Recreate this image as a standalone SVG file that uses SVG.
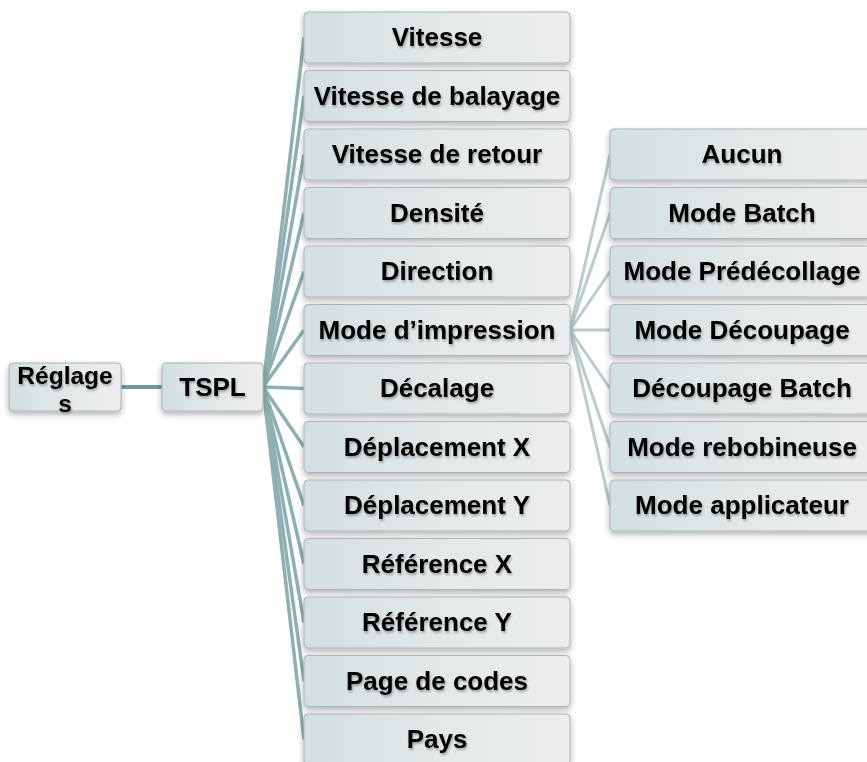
<svg xmlns="http://www.w3.org/2000/svg" width="867" height="762" viewBox="0 0 867 762">
<defs>
<linearGradient id="g" x1="0" y1="0" x2="1" y2="0">
<stop offset="0" stop-color="#d3dfe1"/>
<stop offset="0.5" stop-color="#e3e8e9"/>
<stop offset="1" stop-color="#eceeee"/>
</linearGradient>
<filter id="sh" x="-10%" y="-20%" width="120%" height="160%">
<feDropShadow dx="0" dy="3" stdDeviation="3" flood-color="#000" flood-opacity="0.3"/>
</filter>
<filter id="ts" x="-10%" y="-30%" width="120%" height="160%">
<feDropShadow dx="1" dy="2" stdDeviation="1.2" flood-color="#000" flood-opacity="0.3"/>
</filter>
</defs>
<style>
.b{fill:url(#g);stroke:#aab4b6;stroke-width:1;filter:url(#sh)}
.t{font-family:"Liberation Sans",Arial,sans-serif;font-weight:bold;font-size:26px;fill:#000;text-anchor:middle;filter:url(#ts)}
.s{font-size:24.5px}
.c1{stroke:#8fb0b3;stroke-width:3.5;fill:none}
.c2{stroke:#b9cdce;stroke-width:3;fill:none}
.c0{stroke:#6f989c;stroke-width:4;fill:none}
</style>
<g id="connectors">
<line class="c0" x1="121" y1="387" x2="162" y2="387"/>
<line class="c1" x1="263" y1="387" x2="304" y2="37.5"/>
<line class="c1" x1="263" y1="387" x2="304" y2="96"/>
<line class="c1" x1="263" y1="387" x2="304" y2="154.5"/>
<line class="c1" x1="263" y1="387" x2="304" y2="213"/>
<line class="c1" x1="263" y1="387" x2="304" y2="271.5"/>
<line class="c1" x1="263" y1="387" x2="304" y2="330"/>
<line class="c1" x1="263" y1="387" x2="304" y2="388.5"/>
<line class="c1" x1="263" y1="387" x2="304" y2="447"/>
<line class="c1" x1="263" y1="387" x2="304" y2="505.5"/>
<line class="c1" x1="263" y1="387" x2="304" y2="564"/>
<line class="c1" x1="263" y1="387" x2="304" y2="622.5"/>
<line class="c1" x1="263" y1="387" x2="304" y2="681"/>
<line class="c1" x1="263" y1="387" x2="304" y2="739.5"/>
<line class="c2" x1="570" y1="330" x2="610" y2="154.5"/>
<line class="c2" x1="570" y1="330" x2="610" y2="213"/>
<line class="c2" x1="570" y1="330" x2="610" y2="271.5"/>
<line class="c2" x1="570" y1="330" x2="610" y2="330"/>
<line class="c2" x1="570" y1="330" x2="610" y2="388.5"/>
<line class="c2" x1="570" y1="330" x2="610" y2="447"/>
<line class="c2" x1="570" y1="330" x2="610" y2="505.5"/>
</g>
<g id="reglages"><rect class="b" x="9" y="363" width="112" height="48" rx="4"/><text class="t s" x="65" y="384">Réglage</text><text class="t s" x="65" y="412">s</text></g>
<g id="tspl"><rect class="b" x="162" y="363" width="101" height="48" rx="4"/><text class="t" x="212.5" y="396">TSPL</text></g>
<g id="vitesse"><rect class="b" x="304" y="12" width="266" height="51" rx="4"/><text class="t" x="437" y="46">Vitesse</text></g>
<g id="vitesse-balayage"><rect class="b" x="304" y="70.5" width="266" height="51" rx="4"/><text class="t" x="437" y="104.5">Vitesse de balayage</text></g>
<g id="vitesse-retour"><rect class="b" x="304" y="129" width="266" height="51" rx="4"/><text class="t" x="437" y="163">Vitesse de retour</text></g>
<g id="densite"><rect class="b" x="304" y="187.5" width="266" height="51" rx="4"/><text class="t" x="437" y="221.5">Densité</text></g>
<g id="direction"><rect class="b" x="304" y="246" width="266" height="51" rx="4"/><text class="t" x="437" y="280">Direction</text></g>
<g id="mode-impression"><rect class="b" x="304" y="304.5" width="266" height="51" rx="4"/><text class="t" x="437" y="338.5">Mode d’impression</text></g>
<g id="decalage"><rect class="b" x="304" y="363" width="266" height="51" rx="4"/><text class="t" x="437" y="397">Décalage</text></g>
<g id="deplacement-x"><rect class="b" x="304" y="421.5" width="266" height="51" rx="4"/><text class="t" x="437" y="455.5">Déplacement X</text></g>
<g id="deplacement-y"><rect class="b" x="304" y="480" width="266" height="51" rx="4"/><text class="t" x="437" y="514">Déplacement Y</text></g>
<g id="reference-x"><rect class="b" x="304" y="538.5" width="266" height="51" rx="4"/><text class="t" x="437" y="572.5">Référence X</text></g>
<g id="reference-y"><rect class="b" x="304" y="597" width="266" height="51" rx="4"/><text class="t" x="437" y="631">Référence Y</text></g>
<g id="page-codes"><rect class="b" x="304" y="655.5" width="266" height="51" rx="4"/><text class="t" x="437" y="689.5">Page de codes</text></g>
<g id="pays"><rect class="b" x="304" y="714" width="266" height="51" rx="4"/><text class="t" x="437" y="748">Pays</text></g>
<g id="aucun"><rect class="b" x="610" y="129" width="266" height="51" rx="4"/><text class="t" x="742" y="163">Aucun</text></g>
<g id="mode-batch"><rect class="b" x="610" y="187.5" width="266" height="51" rx="4"/><text class="t" x="742" y="221.5">Mode Batch</text></g>
<g id="mode-predecollage"><rect class="b" x="610" y="246" width="266" height="51" rx="4"/><text class="t" x="742" y="280">Mode Prédécollage</text></g>
<g id="mode-decoupage"><rect class="b" x="610" y="304.5" width="266" height="51" rx="4"/><text class="t" x="742" y="338.5">Mode Découpage</text></g>
<g id="decoupage-batch"><rect class="b" x="610" y="363" width="266" height="51" rx="4"/><text class="t" x="742" y="397">Découpage Batch</text></g>
<g id="mode-rebobineuse"><rect class="b" x="610" y="421.5" width="266" height="51" rx="4"/><text class="t" x="742" y="455.5">Mode rebobineuse</text></g>
<g id="mode-applicateur"><rect class="b" x="610" y="480" width="266" height="51" rx="4"/><text class="t" x="742" y="514">Mode applicateur</text></g>
</svg>
